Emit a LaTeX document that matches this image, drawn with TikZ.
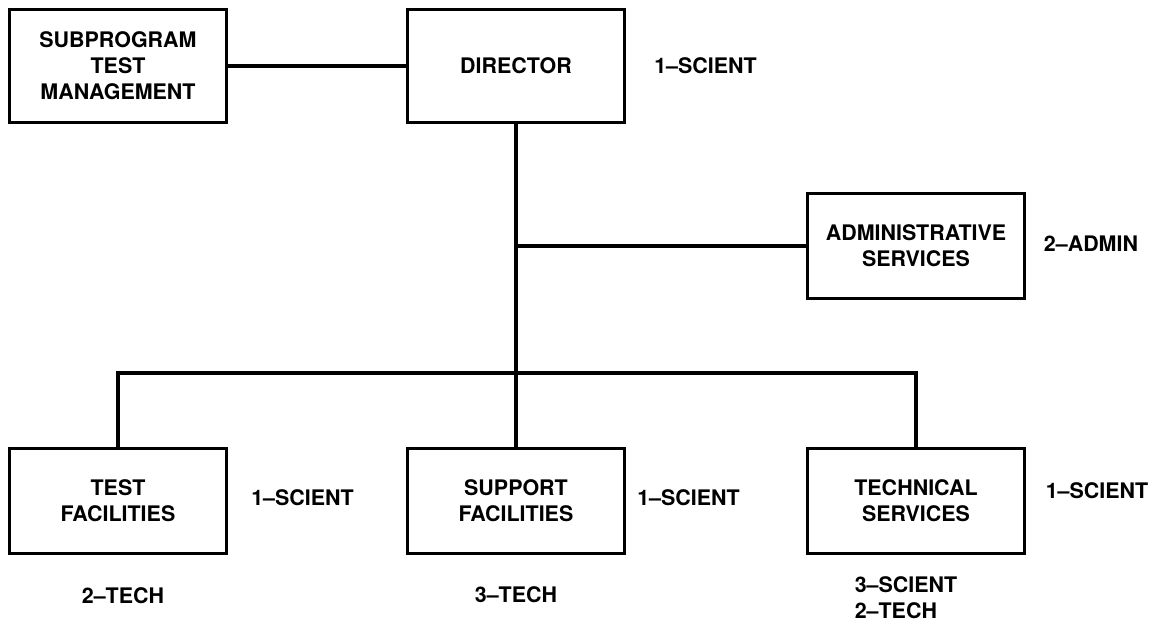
\documentclass[tikz,border=0pt]{standalone}
\usepackage{fontspec}
\setmainfont{TeX Gyre Heros}
\usepackage{tikz}

\begin{document}
\begin{tikzpicture}[
    node distance=7.96cm,
    font=\fontsize{12.2}{14.8}\selectfont\bfseries,
    box/.style={rectangle, draw, line width=1.4pt, minimum width=4.34cm, minimum height=2.1cm, align=center},
    staff/.style={align=left},
    link/.style={line width=2.2pt}
]
    \useasboundingbox (-10.32,1.32) rectangle (12.76,-11.32);

    \node[box, minimum height=2.26cm] (dir) {DIRECTOR};
    \node[box, minimum height=2.26cm, left of=dir] (sub) {SUBPROGRAM\\TEST\\MANAGEMENT};
    \node[box, below of=dir, node distance=3.6cm, xshift=8cm] (adm) {ADMINISTRATIVE\\SERVICES};
    \node[box, below of=dir, node distance=8.7cm] (supp) {SUPPORT\\FACILITIES};
    \node[box, left of=supp] (test) {TEST\\FACILITIES};
    \node[box, right of=supp, node distance=8cm] (tech) {TECHNICAL\\SERVICES};
    \coordinate[below of=dir, node distance=6.14cm] (bar);
    \coordinate (admjoin) at (dir |- adm);

    % staff counts
    \node[staff, right of=dir, node distance=3.79cm] (dirstaff) {1--SCIENT};
    \node[staff, right of=adm, node distance=3.5cm, yshift=0.05cm] (admstaff) {2--ADMIN};
    \node[staff, right of=test, node distance=3.69cm, yshift=0.06cm] (testsci) {1--SCIENT};
    \node[staff, below of=test, node distance=1.9cm, xshift=0.1cm] (testtech) {2--TECH};
    \node[staff, right of=supp, node distance=3.45cm, yshift=0.06cm] (suppsci) {1--SCIENT};
    \node[staff, below of=supp, node distance=1.88cm] (supptech) {3--TECH};
    \node[staff, right of=tech, node distance=3.62cm, yshift=0.2cm] (techsci) {1--SCIENT};
    \node[staff, below of=tech, node distance=1.93cm, xshift=-0.2cm] (techrest) {3--SCIENT\\2--TECH};

    \draw[link] (sub) -- (dir);
    \draw[link] (dir) -- (bar);
    \draw[link] (admjoin) -- (adm);
    \draw[link] (test) |- (bar) -| (tech);
    \draw[link] (bar) -- (supp);
\end{tikzpicture}
\end{document}
